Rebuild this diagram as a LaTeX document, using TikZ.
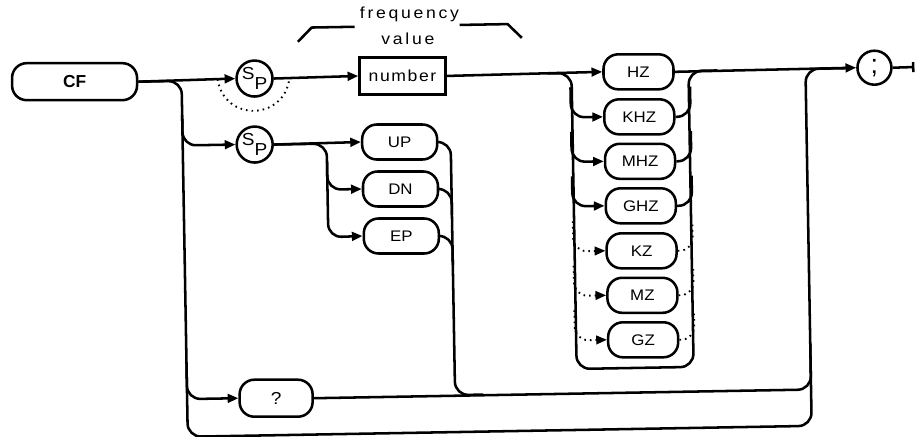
\documentclass[tikz,border=0pt]{standalone}
\usepackage{fontspec}
\setmainfont{Liberation Sans}
\newfontfamily\plotfont[FakeStretch=1.1,LetterSpace=17]{Liberation Sans}
\newfontfamily\numfont[FakeStretch=1.1,LetterSpace=10]{Liberation Sans}
\newfontfamily\keyfont[FakeStretch=1.1]{Liberation Sans}
\usetikzlibrary{arrows.meta,calc}

\tikzset{
  synline/.style={line width=1.9pt},
  kwbox/.style={draw, line width=1.9pt, rounded corners=11pt, minimum width=52.5pt, minimum height=26.25pt, inner sep=0pt, font=\keyfont\fontsize{11.5}{12}\selectfont},
  numbox/.style={draw, line width=1.9pt, minimum width=64.5pt, minimum height=27.75pt, inner sep=0pt, font=\numfont\fontsize{12}{12}\selectfont},
  spcirc/.style={draw, circle, line width=1.9pt, minimum size=27pt, inner sep=0pt, font=\keyfont\fontsize{13}{13}\selectfont},
  tip/.style={-{Triangle[length=8pt,width=6.5pt]}},
  optpath/.style={dash pattern=on 1.2pt off 3pt, line width=1.4pt},
}

\begin{document}
\begin{tikzpicture}[x=0.75pt,y=0.75pt,yscale=-1,xscale=1]
\useasboundingbox (0,0) rectangle (917,436);
\begin{scope}[rotate around={-1:(458,218)}]

% Text Node
\node (freq) at (413,14) {\plotfont\fontsize{12}{12}\selectfont frequency};
% Text Node
\node (val) at (411,38) {\plotfont\fontsize{12}{12}\selectfont value};
%Straight Lines (bracket)
\draw [synline] (301,39) -- (315,25) -- (358,25) ;
\draw [synline] (463,25) -- (511,25) -- (525,39) ;

% Keyword and elements
\node (cf) at (77,75) [kwbox, minimum width=93.75pt, minimum height=27.75pt, font=\bfseries\fontsize{13}{14}\selectfont] {CF};
\node (spa) at (257,75) [spcirc] {\raisebox{3.5pt}{S}\raisebox{-3.5pt}{P}};
\node (spb) at (256,141) [spcirc] {\raisebox{3.5pt}{S}\raisebox{-3.5pt}{P}};
\node (num) at (405,75) [numbox] {number};
\node (up) at (401,141) [kwbox, minimum width=56.25pt] {UP};
\node (dn) at (401,188) [kwbox, minimum width=56.25pt] {DN};
\node (ep) at (401,235) [kwbox, minimum width=56.25pt] {EP};
\node (qm) at (273,395) [kwbox, minimum width=54.75pt, minimum height=27.75pt, font=\keyfont\fontsize{13}{13}\selectfont] {?};
\node (hz) at (641,75) [kwbox] {HZ};
\node (khz) at (641,120) [kwbox] {KHZ};
\node (mhz) at (641,164.5) [kwbox] {MHZ};
\node (ghz) at (641,209) [kwbox] {GHZ};
\node (kz) at (641,254) [kwbox] {KZ};
\node (mz) at (641,298.5) [kwbox] {MZ};
\node (gz) at (641,343) [kwbox] {GZ};
\node (semi) at (877,75) [spcirc, minimum size=25.5pt, font=\fontsize{20}{20}\selectfont] {;};
\coordinate (endpt) at (917,75);

% main line
\draw [synline, tip] (cf.east) -- (spa.west) ;
\draw [synline, tip] (spa.east) -- (num.west) ;
\draw [synline, tip] (num.east) -- (hz.west) ;
\draw [synline, tip] (hz.east) -- (semi.west) ;
\draw [synline, -{Bar[width=7.5pt]}] (semi.east) -- (endpt) ;
% optional space
\coordinate (opta) at (220,75);
\coordinate (optb) at (292,75);
\draw [optpath] (opta) .. controls (226,118) and (286,118) .. (optb) ;

% left branch and bottom loop
\draw [synline, rounded corners=10pt] (cf.east) -| (184,432) -| (808,75) -- (850,75) ;
\draw [synline, tip, rounded corners=10pt] (184,110) |- (spb.west) ;
\draw [synline, tip, rounded corners=10pt] (184,360) |- (qm.west) ;
\draw [synline, rounded corners=10pt] (qm.east) -| (808,350) ;

% UP DN EP
\draw [synline, tip] (spb.east) -- (up.west) ;
\draw [synline, tip, rounded corners=10pt] (spb.east) -| (328,235) -- (ep.west) ;
\draw [synline, tip, rounded corners=10pt] (328,160) |- (dn.west) ;
\draw [synline, rounded corners=10pt] (up.east) -| (452,395) -- (480,395) ;
\draw [synline, rounded corners=10pt] (dn.east) -| (452,215) ;
\draw [synline, rounded corners=10pt] (ep.east) -| (452,265) ;

% units
\draw [synline, rounded corners=10pt] (550,75) -| (574,371) -| (691,75) -- (720,75) ;
\foreach \u in {khz,mhz,ghz}{
  \draw [synline, tip, rounded corners=10pt] ($(\u.west)+(-32,-30)$) |- (\u.west) ;
  \draw [synline, rounded corners=10pt] (\u.east) -| ($(\u.east)+(15,-30)$) ;
}
\foreach \u in {kz,mz,gz}{
  \draw [optpath, tip, rounded corners=10pt] ($(\u.west)+(-32,-30)$) |- (\u.west) ;
  \draw [optpath, rounded corners=10pt] (\u.east) -| ($(\u.east)+(15,-30)$) ;
}

\end{scope}
\end{tikzpicture}
\end{document}
